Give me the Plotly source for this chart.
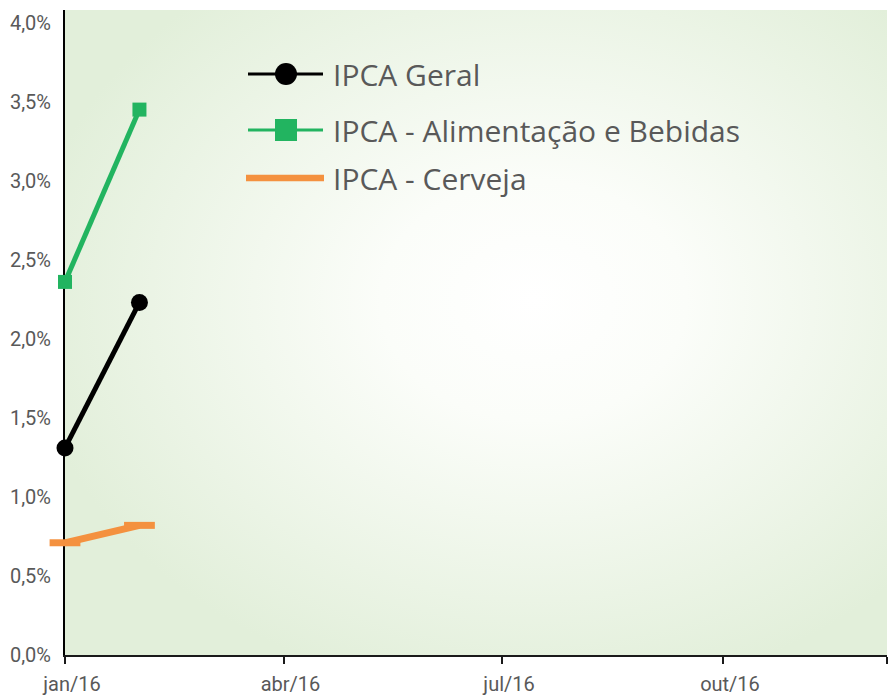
import base64
import plotly.graph_objects as go

# ---- data ----
months = ["2016-01-01", "2016-02-01"]
ipca_geral = [1.31, 2.23]
ipca_alim = [2.36, 3.45]
ipca_cerveja = [0.71, 0.82]

names = ["IPCA Geral", "IPCA - Alimentação e Bebidas", "IPCA - Cerveja"]
tick_dates = ["2016-01-01", "2016-04-01", "2016-07-01", "2016-10-01", "2016-12-08 07:00"]
tick_text = ["jan/16", "abr/16", "jul/16", "out/16", ""]
y_ticks = [0, 0.5, 1, 1.5, 2, 2.5, 3, 3.5, 4]
y_tick_text = ["0,0%", "0,5%", "1,0%", "1,5%", "2,0%", "2,5%", "3,0%", "3,5%", "4,0%"]

BLACK = "#000000"
GREEN = "#22B460"
ORANGE = "#F4913F"
TXT = "#595959"
TICKFONT = "Roboto, DejaVu Sans Condensed, sans-serif"

W, H = 894, 695
ML, MR, MT, MB = 65, 7, 10, 40
PW, PH = W - ML - MR, H - MT - MB


def px(x):
    return (x - ML) / PW


def py(y):
    return (H - MB - y) / PH


fig = go.Figure()
fig.add_trace(go.Scatter(x=months, y=ipca_geral, name=names[0], mode="lines+markers",
                         line=dict(color=BLACK, width=5),
                         marker=dict(symbol="circle", size=17, color=BLACK),
                         cliponaxis=False, showlegend=False))
fig.add_trace(go.Scatter(x=months, y=ipca_alim, name=names[1], mode="lines+markers",
                         line=dict(color=GREEN, width=5),
                         marker=dict(symbol="square", size=14, color=GREEN),
                         cliponaxis=False, showlegend=False))
fig.add_trace(go.Scatter(x=months, y=ipca_cerveja, name=names[2], mode="lines+markers",
                         line=dict(color=ORANGE, width=7),
                         marker=dict(symbol="line-ew", size=22, color=ORANGE,
                                     line=dict(color=ORANGE, width=7)),
                         cliponaxis=False, showlegend=False))

# ---- background gradient ----
svg = ("<svg xmlns='http://www.w3.org/2000/svg' width='822' height='645' preserveAspectRatio='none'>"
       "<defs><radialGradient id='g' cx='0.57' cy='0.45' r='0.62'>"
       "<stop offset='0' stop-color='#ffffff'/>"
       "<stop offset='0.3' stop-color='#fbfdf9'/>"
       "<stop offset='1' stop-color='#e2efda'/>"
       "</radialGradient></defs>"
       "<rect width='100%' height='100%' fill='url(#g)'/></svg>")
src = "data:image/svg+xml;base64," + base64.b64encode(svg.encode()).decode()

# ---- custom legend ----
shapes = []
annotations = []
leg = [
    (names[0], BLACK, 74, 3, "circle"),
    (names[1], GREEN, 130, 3, "square"),
    (names[2], ORANGE, 178, 6.5, None),
]
for name, col, yy, lw, sym in leg:
    x0, x1 = (248, 323) if sym else (246, 324)
    shapes.append(dict(type="line", xref="paper", yref="paper",
                       x0=px(x0), x1=px(x1), y0=py(yy), y1=py(yy),
                       line=dict(color=col, width=lw)))
    if sym == "circle":
        shapes.append(dict(type="circle", xref="paper", yref="paper",
                           x0=px(286 - 11), x1=px(286 + 11), y0=py(yy - 11), y1=py(yy + 11),
                           fillcolor=col, line=dict(width=0)))
    elif sym == "square":
        shapes.append(dict(type="rect", xref="paper", yref="paper",
                           x0=px(286 - 11), x1=px(286 + 11), y0=py(yy - 11), y1=py(yy + 11),
                           fillcolor=col, line=dict(width=0)))
    annotations.append(dict(text=name, xref="paper", yref="paper", x=px(331), y=py(yy),
                            xanchor="left", yanchor="middle", showarrow=False,
                            font=dict(family="Open Sans", size=30, color=TXT)))

fig.update_layout(
    width=W, height=H,
    margin=dict(l=ML, r=MR, t=MT, b=MB, pad=0, autoexpand=False),
    paper_bgcolor="white",
    plot_bgcolor="rgba(0,0,0,0)",
    showlegend=False,
    images=[dict(source=src, xref="paper", yref="paper", x=0, y=1, sizex=1, sizey=1,
                 xanchor="left", yanchor="top", sizing="stretch", layer="below")],
    shapes=shapes,
    annotations=annotations,
    xaxis=dict(type="date", range=["2016-01-01", "2016-12-08 07:00"],
               tickmode="array", tickvals=tick_dates, ticktext=tick_text,
               ticks="outside", ticklen=7, tickwidth=2, tickcolor="#1a1a1a",
               showline=True, linecolor="#1a1a1a", linewidth=2, automargin=False,
               showgrid=False, zeroline=False, layer="below traces",
               ticklabelshift=7, ticklabelstandoff=3,
               tickfont=dict(family=TICKFONT, size=20, color=TXT)),
    yaxis=dict(range=[0, 4.08], tickmode="array", tickvals=y_ticks, ticktext=y_tick_text,
               ticks="", automargin=False,
               showline=True, linecolor=BLACK, linewidth=2,
               showgrid=False, zeroline=False, layer="below traces",
               ticklabelstandoff=8,
               tickfont=dict(family=TICKFONT, size=20, color=TXT)),
)

fig.write_html("out.html", config={"displayModeBar": False},
               post_script="document.body.style.margin='0';document.body.style.overflow='hidden';")
